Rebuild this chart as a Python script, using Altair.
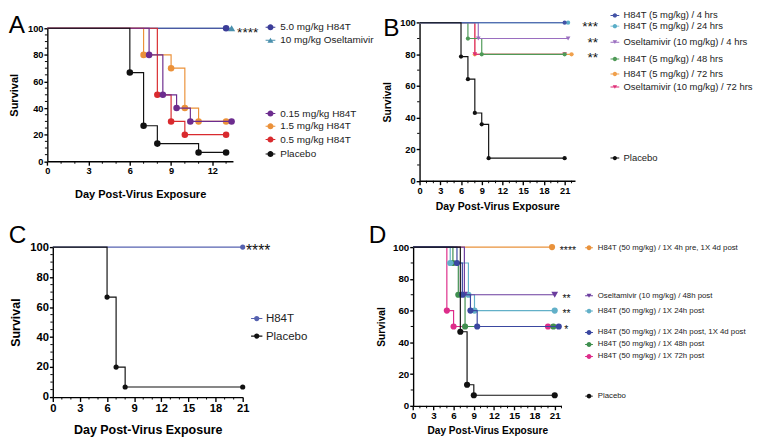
import altair as alt
import pandas as pd

FONT = "Liberation Sans"
X_TITLE = "Day Post-Virus Exposure"
Y_TITLE = "Survival"

# ---------------- Panel A data ----------------
A_LABELS = ["5.0 mg/kg H84T", "10 mg/kg Oseltamivir", "0.15 mg/kg H84T",
            "1.5 mg/kg H84T", "0.5 mg/kg H84T", "Placebo"]
A_COLORS = ["#3b3d98", "#4a90ad", "#6c2c8e", "#eb9139", "#d92a2e", "#111111"]
A_SHAPES = ["circle", "triangle-up", "circle", "circle", "circle", "circle"]
A_H84T_50_DAYS = [0, 13]
A_H84T_50_SURV = [100, 100]
A_OSEL_DAYS = [0, 13.4]
A_OSEL_SURV = [100, 100]
A_H84T_015_DAYS = [0, 7.4, 8.4, 9.4, 10.4, 13.4]
A_H84T_015_SURV = [100, 80, 50, 40, 30, 30]
A_H84T_15_DAYS = [0, 7, 9, 10, 11, 13]
A_H84T_15_SURV = [100, 80, 70, 40, 30, 30]
A_H84T_05_DAYS = [0, 8, 9, 10, 13]
A_H84T_05_SURV = [100, 50, 30, 20, 20]
A_PLACEBO_DAYS = [0, 6, 7, 8, 11, 13]
A_PLACEBO_SURV = [100, 66.7, 26.7, 13.3, 6.7, 6.7]
A_STAR_TEXT = ["****"]
A_STAR_DAY = [13.8]
A_STAR_SURV = [100]

# ---------------- Panel B data ----------------
B_LABELS = ["H84T (5 mg/kg) / 4 hrs", "H84T (5 mg/kg) / 24 hrs",
            "Oseltamivir (10 mg/kg) / 4 hrs", "H84T (5 mg/kg) / 48 hrs",
            "H84T (5 mg/kg) / 72 hrs", "Oseltamivir (10 mg/kg) / 72 hrs", "Placebo"]
B_COLORS = ["#4453a6", "#5aaec8", "#9a6ec0", "#4f9a57", "#f0a04c", "#df2f78", "#111111"]
B_SHAPES = ["circle", "circle", "triangle-down", "circle", "circle", "triangle-down", "circle"]
B_4H_DAYS = [0, 21]
B_4H_SURV = [100, 100]
B_24H_DAYS = [0, 21.5]
B_24H_SURV = [100, 100]
B_OSEL4_DAYS = [0, 8.5, 21.5]
B_OSEL4_SURV = [100, 90, 90]
B_48H_DAYS = [0, 7, 9, 21]
B_48H_SURV = [100, 90, 80, 80]
B_72H_DAYS = [0, 8, 22]
B_72H_SURV = [100, 80, 80]
B_OSEL72_DAYS = [0, 8, 21]
B_OSEL72_SURV = [100, 80, 80]
B_PLACEBO_DAYS = [0, 6, 7, 8, 9, 10, 21]
B_PLACEBO_SURV = [100, 78.6, 64.3, 42.9, 35.7, 14.3, 14.3]
B_STAR_TEXT = ["***", "**", "**"]
B_STAR_DAY = [25.85, 25.85, 25.85]
B_STAR_SURV = [100, 90, 80]

# ---------------- Panel C data ----------------
C_LABELS = ["H84T", "Placebo"]
C_COLORS = ["#5662b0", "#111111"]
C_SHAPES = ["circle", "circle"]
C_H84T_DAYS = [0, 21]
C_H84T_SURV = [100, 100]
C_PLACEBO_DAYS = [0, 6, 7, 8, 21]
C_PLACEBO_SURV = [100, 66.7, 20, 6.7, 6.7]
C_STAR_TEXT = ["****"]
C_STAR_DAY = [21.37]
C_STAR_SURV = [100]

# ---------------- Panel D data ----------------
D_LABELS = ["H84T (50 mg/kg) / 1X 4h pre, 1X 4d post", "Oseltamivir (10 mg/kg) / 48h post",
            "H84T (50 mg/kg) / 1X 24h post", "H84T (50 mg/kg) / 1X 24h post, 1X 4d post",
            "H84T (50 mg/kg) / 1X 48h post", "H84T (50 mg/kg) / 1X 72h post", "Placebo"]
D_COLORS = ["#e9923b", "#6b3d9e", "#62b0c8", "#3a47a0", "#3f8f4f", "#dd2d8a", "#111111"]
D_SHAPES = ["circle", "triangle-down", "circle", "circle", "circle", "circle", "circle"]
D_PRE_DAYS = [0, 20.6]
D_PRE_SURV = [100, 100]
D_OSEL48_DAYS = [0, 7.6, 21]
D_OSEL48_SURV = [100, 70, 70]
D_24H_DAYS = [0, 5.5, 8.2, 9.1, 21]
D_24H_SURV = [100, 90, 70, 60, 60]
D_24H4D_DAYS = [0, 6.5, 7.3, 8.5, 9.5, 21.6]
D_24H4D_SURV = [100, 90, 70, 60, 50, 50]
D_48H_DAYS = [0, 5.9, 6.7, 7.7, 20.8]
D_48H_SURV = [100, 90, 70, 50, 50]
D_72H_DAYS = [0, 5, 6, 20]
D_72H_SURV = [100, 60, 50, 50]
D_PLACEBO_DAYS = [0, 7, 8, 9, 21]
D_PLACEBO_SURV = [100, 46.7, 13.3, 6.7, 6.7]
D_STAR_TEXT = ["****", "**", "**", "*"]
D_STAR_DAY = [21.75, 22.15, 22.15, 22.4]
D_STAR_SURV = [100, 70, 60, 50]

# axis tick values
X_TICKS_A = [0, 3, 6, 9, 12]
X_TICKS_21 = [0, 3, 6, 9, 12, 15, 18, 21]
Y_TICKS = [0, 20, 40, 60, 80, 100]
X_MINOR_A = [1, 2, 4, 5, 7, 8, 10, 11, 13]
X_MINOR_B = [1, 2, 4, 5, 7, 8, 10, 11, 13, 14, 16, 17, 19, 20, 22]
X_MINOR_C = [1, 2, 4, 5, 7, 8, 10, 11, 13, 14, 16, 17, 19, 20]
Y_MINOR_5 = [5, 10, 15, 25, 30, 35, 45, 50, 55, 65, 70, 75, 85, 90, 95]
Y_MINOR_10 = [10, 30, 50, 70, 90]


def legend_symbol(shape, r, t):
    rect = f"M-1,{-t}L1,{-t}L1,{t}L-1,{t}Z"
    if shape == "circle":
        mk = f"M{-r},0A{r},{r},0,1,1,{r},0A{r},{r},0,1,1,{-r},0Z"
    elif shape == "triangle-up":
        mk = f"M{-r},{0.85 * r}L0,{-0.85 * r}L{r},{0.85 * r}Z"
    else:
        mk = f"M{-r},{-0.85 * r}L{r},{-0.85 * r}L0,{0.85 * r}Z"
    return rect + mk


def build_panel(p, series, stars):
    xs = alt.Scale(domain=p["xdom"], range=p["xrange"], nice=False, zero=False)
    ys = alt.Scale(domain=[0, 100], range=p["yrange"], nice=False, zero=False)
    h = p["height"]
    ax = -p["yoff"]
    common = dict(grid=False, domainColor="black", domainWidth=1.4, tickColor="black",
                  tickWidth=1.4, labelFont=FONT, labelFontWeight="bold",
                  labelFontSize=p["tick_fs"], labelColor="black", labelFlush=False,
                  labelOverlap=False, titleFont=FONT, titleFontWeight="bold",
                  titleFontSize=p["title_fs"], titleColor="black", format="d")
    xaxis = alt.Axis(values=p["xticks"], title=X_TITLE, labelPadding=1, tickSize=p["tick_len"],
                     titleY=p["xtitle_y"], titleBaseline="middle", **common)
    yaxis = alt.Axis(values=Y_TICKS, title=Y_TITLE, labelPadding=1, tickSize=3.5,
                     offset=p["yoff"], titleX=p["ytitle_x"], titleBaseline="middle",
                     titleAngle=270, titleAlign="center", **common)

    def X(field):
        return alt.X(field, scale=xs, axis=xaxis)

    def Y(field):
        return alt.Y(field, scale=ys, axis=yaxis)

    layers = []
    layers.append(alt.Chart(pd.DataFrame({"v": p["xminor"]})).mark_rule(
        color="black", strokeWidth=1).encode(x=X("v:Q"), y=alt.value(h), y2=alt.value(h + 2.5)))
    layers.append(alt.Chart(pd.DataFrame({"v": p["yminor"]})).mark_rule(
        color="black", strokeWidth=1).encode(y=Y("v:Q"), x=alt.value(ax - 2.5), x2=alt.value(ax)))

    rowh = max(p["leg_size"] ** 0.5, p["leg_fs"])
    for label, days, surv, color, shape, leg_cy in series:
        df = pd.DataFrame({"day": days, "surv": surv, "series": label,
                           "marker": [i > 0 for i in range(len(days))]})
        layers.append(alt.Chart(df).mark_line(
            interpolate="step-after", color=color, strokeWidth=p["line_w"]).encode(
            x=X("day:Q"), y=Y("surv:Q")))
        leg = alt.Legend(orient="none", legendX=p["leg_x"] - p["cx"],
                         legendY=leg_cy - p["cy"] - rowh / 2, title=None,
                         symbolType=legend_symbol(shape, p["leg_r"], p["leg_t"]),
                         symbolSize=p["leg_size"], symbolStrokeWidth=0,
                         symbolFillColor=color, symbolOpacity=1,
                         labelFont=FONT, labelFontSize=p["leg_fs"], labelColor="#222222",
                         labelOffset=p["leg_gap"], labelLimit=400, padding=0, rowPadding=0)
        size = p["pt_size"] * (1.2 if shape != "circle" else 1.0)
        layers.append(alt.Chart(df).transform_filter("datum.marker").mark_point(
            filled=True, shape=shape, size=size, opacity=1).encode(
            x=X("day:Q"), y=Y("surv:Q"),
            color=alt.Color("series:N", scale=alt.Scale(domain=[label], range=[color]),
                            legend=leg)))

    texts, sdays, ssurv = stars
    sdf = pd.DataFrame({"day": sdays, "surv": ssurv, "txt": texts})
    layers.append(alt.Chart(sdf).mark_text(
        align=p["star_align"], baseline="alphabetic", dy=p["star_dy"],
        fontSize=p["star_fs"], font=FONT, color="#111111").encode(
        x=X("day:Q"), y=Y("surv:Q"), text="txt:N"))

    title = alt.TitleParams(text=p["letter"], anchor="start", frame="group", fontSize=25,
                            font=FONT, fontWeight="normal", color="black",
                            baseline="alphabetic", dx=p["letter_dx"], dy=p["letter_dy"],
                            offset=0)
    return alt.layer(*layers).resolve_scale(color="independent").properties(
        width=p["width"], height=h, title=title)


# cell origins (cx, cy) and plot ranges inside each cell
PA = dict(letter="A", cx=48.3, cy=21.7, xdom=[0, 13.5], xrange=[-5.6, 185],
          yrange=[136.6, 0], width=185, height=136.6, yoff=5.6,
          xticks=X_TICKS_A, xminor=X_MINOR_A, yminor=Y_MINOR_5, tick_fs=9.5, tick_len=4,
          title_fs=11.3, xtitle_y=34.4, ytitle_x=-33.7, pt_size=45, line_w=1.2, leg_fs=10.2,
          leg_size=100, leg_r=0.62, leg_t=0.1, leg_gap=5, leg_x=266.7, star_fs=14,
          star_align="left", star_dy=9.2, letter_dx=-45.3, letter_dy=35.9)
PB = dict(letter="B", cx=419.3, cy=21.7, xdom=[0, 22.5], xrange=[0, 159.6],
          yrange=[156.6, -5.7], width=159.6, height=156.6, yoff=0,
          xticks=X_TICKS_21, xminor=X_MINOR_B, yminor=Y_MINOR_10, tick_fs=9.5, tick_len=4,
          title_fs=10.7, xtitle_y=26.7, ytitle_x=-32.6, pt_size=19, line_w=1.2, leg_fs=9.7,
          leg_size=81, leg_r=0.5, leg_t=0.11, leg_gap=4, leg_x=615, star_fs=14,
          star_align="right", star_dy=8.2, letter_dx=-37.3, letter_dy=50.8)
PC = dict(letter="C", cx=48.3, cy=241, xdom=[0, 21], xrange=[0, 195],
          yrange=[154, 0], width=195, height=154, yoff=0,
          xticks=X_TICKS_21, xminor=X_MINOR_C, yminor=Y_MINOR_5, tick_fs=11.5, tick_len=4.5,
          title_fs=12.8, xtitle_y=33.3, ytitle_x=-37.8, pt_size=28, line_w=1.2, leg_fs=11.8,
          leg_size=135, leg_r=0.47, leg_t=0.09, leg_gap=3.4, leg_x=251.7, star_fs=16,
          star_align="left", star_dy=9.4, letter_dx=-45.3, letter_dy=26.4)
PD = dict(letter="D", cx=419.3, cy=241, xdom=[0, 22], xrange=[-6.6, 145.7],
          yrange=[163, 0], width=145.7, height=163, yoff=6.6,
          xticks=X_TICKS_21, xminor=X_MINOR_B, yminor=Y_MINOR_10, tick_fs=10, tick_len=4,
          title_fs=10.4, xtitle_y=25, ytitle_x=-32.7, pt_size=40, line_w=1.2, leg_fs=8.0,
          leg_size=64, leg_r=0.62, leg_t=0.125, leg_gap=5, leg_x=589.3, star_fs=10.7,
          star_align="left", star_dy=7, letter_dx=-52.3, letter_dy=25.7)

A_SERIES = [
    (A_LABELS[1], A_OSEL_DAYS, A_OSEL_SURV, A_COLORS[1], A_SHAPES[1], 34),
    (A_LABELS[0], A_H84T_50_DAYS, A_H84T_50_SURV, A_COLORS[0], A_SHAPES[0], 20.7),
    (A_LABELS[3], A_H84T_15_DAYS, A_H84T_15_SURV, A_COLORS[3], A_SHAPES[3], 122.3),
    (A_LABELS[4], A_H84T_05_DAYS, A_H84T_05_SURV, A_COLORS[4], A_SHAPES[4], 136),
    (A_LABELS[2], A_H84T_015_DAYS, A_H84T_015_SURV, A_COLORS[2], A_SHAPES[2], 109.3),
    (A_LABELS[5], A_PLACEBO_DAYS, A_PLACEBO_SURV, A_COLORS[5], A_SHAPES[5], 150.7),
]
B_SERIES = [
    (B_LABELS[4], B_72H_DAYS, B_72H_SURV, B_COLORS[4], B_SHAPES[4], 68.7),
    (B_LABELS[5], B_OSEL72_DAYS, B_OSEL72_SURV, B_COLORS[5], B_SHAPES[5], 82),
    (B_LABELS[3], B_48H_DAYS, B_48H_SURV, B_COLORS[3], B_SHAPES[3], 53.3),
    (B_LABELS[2], B_OSEL4_DAYS, B_OSEL4_SURV, B_COLORS[2], B_SHAPES[2], 36),
    (B_LABELS[1], B_24H_DAYS, B_24H_SURV, B_COLORS[1], B_SHAPES[1], 19.5),
    (B_LABELS[0], B_4H_DAYS, B_4H_SURV, B_COLORS[0], B_SHAPES[0], 8.5),
    (B_LABELS[6], B_PLACEBO_DAYS, B_PLACEBO_SURV, B_COLORS[6], B_SHAPES[6], 155),
]
C_SERIES = [
    (C_LABELS[0], C_H84T_DAYS, C_H84T_SURV, C_COLORS[0], C_SHAPES[0], 314.3),
    (C_LABELS[1], C_PLACEBO_DAYS, C_PLACEBO_SURV, C_COLORS[1], C_SHAPES[1], 332.3),
]
D_SERIES = [
    (D_LABELS[0], D_PRE_DAYS, D_PRE_SURV, D_COLORS[0], D_SHAPES[0], 241.7),
    (D_LABELS[5], D_72H_DAYS, D_72H_SURV, D_COLORS[5], D_SHAPES[5], 353.3),
    (D_LABELS[4], D_48H_DAYS, D_48H_SURV, D_COLORS[4], D_SHAPES[4], 341),
    (D_LABELS[2], D_24H_DAYS, D_24H_SURV, D_COLORS[2], D_SHAPES[2], 306.7),
    (D_LABELS[1], D_OSEL48_DAYS, D_OSEL48_SURV, D_COLORS[1], D_SHAPES[1], 291),
    (D_LABELS[3], D_24H4D_DAYS, D_24H4D_SURV, D_COLORS[3], D_SHAPES[3], 328.7),
    (D_LABELS[6], D_PLACEBO_DAYS, D_PLACEBO_SURV, D_COLORS[6], D_SHAPES[6], 394),
]

panel_a = build_panel(PA, A_SERIES, (A_STAR_TEXT, A_STAR_DAY, A_STAR_SURV))
panel_b = build_panel(PB, B_SERIES, (B_STAR_TEXT, B_STAR_DAY, B_STAR_SURV))
panel_c = build_panel(PC, C_SERIES, (C_STAR_TEXT, C_STAR_DAY, C_STAR_SURV))
panel_d = build_panel(PD, D_SERIES, (D_STAR_TEXT, D_STAR_DAY, D_STAR_SURV))

col_w = max(PA["width"], PC["width"])
row_h = max(PA["height"], PB["height"])
# small empirical corrections measured on the rendered grid
ROW_FIX = 5
COL_FIX = 5.6
chart = alt.concat(
    panel_a, panel_b, panel_c, panel_d, columns=2, bounds="flush",
    spacing={"row": PC["cy"] - PA["cy"] - row_h + ROW_FIX,
             "column": PB["cx"] - PA["cx"] - col_w + COL_FIX},
).resolve_scale(color="independent", x="independent", y="independent").properties(
    padding={"left": 0, "top": -4, "right": 0, "bottom": 0}).configure_view(stroke=None)

chart.save("out.html", embed_options={"renderer": "svg", "actions": False})
